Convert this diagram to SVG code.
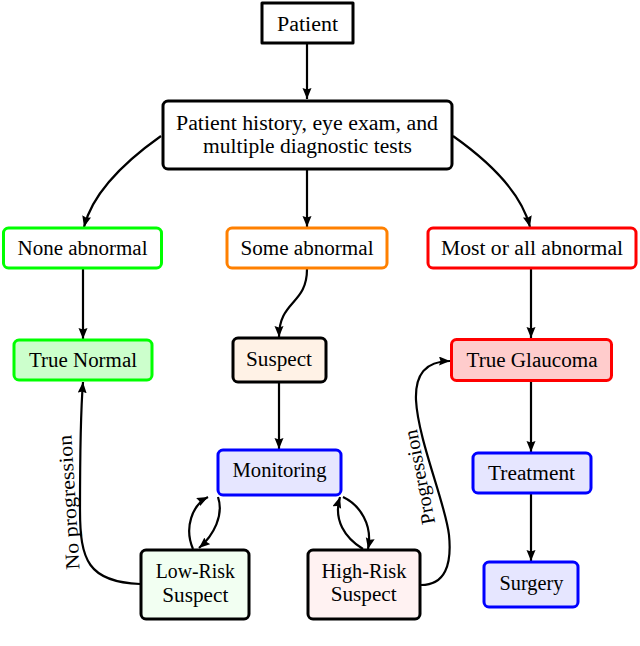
<svg xmlns="http://www.w3.org/2000/svg" width="640" height="646" viewBox="0 0 640 646">
<defs>
<marker id="ah" markerUnits="userSpaceOnUse" markerWidth="13" markerHeight="10" refX="11" refY="4.5" orient="auto">
<path d="M0,0 L11,4.5 L0,9 L1.5,4.5 z" fill="#000"/>
</marker>
<style>
text{font-family:"Liberation Serif","Times New Roman",serif;font-size:20px;fill:#000;text-anchor:middle}
.box{stroke-width:3;stroke-linejoin:round}
.k{stroke:#000}
.g{stroke:#00ff00}
.o{stroke:#ff8000}
.r{stroke:#ff0000}
.b{stroke:#0000ff}
#edges path{fill:none;stroke:#000;stroke-width:2.2;marker-end:url(#ah)}
</style>
</defs>
<rect width="640" height="646" fill="#fff"/>
<g id="edges">
<path d="M307,44 L307,99"/>
<path d="M161,136 C120,165 92,195 84,227"/>
<path d="M307,169 L307,227"/>
<path d="M453,136 C494,165 522,195 530,227"/>
<path d="M83,269 L83,339"/>
<path d="M307,269 C307,305 279,300 279,337"/>
<path d="M531,269 L531,338"/>
<path d="M279,383 L279,449"/>
<path d="M531,382 L531,452"/>
<path d="M531,494 L531,561"/>
<path d="M193,549 C184,528 192,505 208,497"/>
<path d="M218,497 C224,515 214,535 199,548"/>
<path d="M363,549 C345,538 333,520 340,497"/>
<path d="M343,497 C360,505 373,525 368,549"/>
<path d="M140,584 C88,582 80,560 80,510 C80,460 80,420 83,382"/>
<path d="M421,585 C445,585 452,565 449,535 C446,505 418,440 416,400 C415,375 425,361 450,361"/>
<text transform="translate(75.5,502) rotate(-93.5)" textLength="135" lengthAdjust="spacingAndGlyphs">No progression</text>
<text transform="translate(426,476) rotate(-101)" textLength="96" lengthAdjust="spacingAndGlyphs">Progression</text>
</g>
<g id="patient">
<rect class="box k" x="262" y="3" width="91" height="40" fill="#fff"/>
<text x="307.5" y="30.5" textLength="61" lengthAdjust="spacingAndGlyphs">Patient</text>
</g>
<g id="history">
<rect class="box k" x="163" y="101" width="289" height="68" rx="5" fill="#fff"/>
<text x="307" y="129.5" textLength="262" lengthAdjust="spacingAndGlyphs">Patient history, eye exam, and</text>
<text x="307.5" y="152.5" textLength="209" lengthAdjust="spacingAndGlyphs">multiple diagnostic tests</text>
</g>
<g id="none-abnormal">
<rect class="box g" x="3.5" y="228" width="158" height="40" rx="5" fill="#fff"/>
<text x="82.5" y="255" textLength="130" lengthAdjust="spacingAndGlyphs">None abnormal</text>
</g>
<g id="some-abnormal">
<rect class="box o" x="227" y="228" width="160" height="40" rx="5" fill="#fff"/>
<text x="307" y="255" textLength="133" lengthAdjust="spacingAndGlyphs">Some abnormal</text>
</g>
<g id="most-abnormal">
<rect class="box r" x="428" y="228" width="208" height="40" rx="5" fill="#fff"/>
<text x="532" y="255" textLength="182" lengthAdjust="spacingAndGlyphs">Most or all abnormal</text>
</g>
<g id="true-normal">
<rect class="box g" x="14" y="340" width="138" height="40" rx="5" fill="#ccffcc"/>
<text x="83" y="367" textLength="108" lengthAdjust="spacingAndGlyphs">True Normal</text>
</g>
<g id="suspect">
<rect class="box k" x="233" y="338" width="93" height="44" rx="5" fill="#fff2e6"/>
<text x="279" y="366" textLength="66" lengthAdjust="spacingAndGlyphs">Suspect</text>
</g>
<g id="true-glaucoma">
<rect class="box r" x="451.5" y="339.5" width="160" height="41" rx="5" fill="#ffcccc"/>
<text x="532" y="367" textLength="131" lengthAdjust="spacingAndGlyphs">True Glaucoma</text>
</g>
<g id="monitoring">
<rect class="box b" x="218" y="450" width="123" height="45" rx="5" fill="#e6e6ff"/>
<text x="279.5" y="477" textLength="94" lengthAdjust="spacingAndGlyphs">Monitoring</text>
</g>
<g id="treatment">
<rect class="box b" x="473" y="453" width="118" height="40" rx="5" fill="#e6e6ff"/>
<text x="531.5" y="480" textLength="87" lengthAdjust="spacingAndGlyphs">Treatment</text>
</g>
<g id="surgery">
<rect class="box b" x="484" y="562" width="94" height="45" rx="5" fill="#e6e6ff"/>
<text x="531.5" y="590" textLength="64" lengthAdjust="spacingAndGlyphs">Surgery</text>
</g>
<g id="low-risk">
<rect class="box k" x="141" y="550" width="108" height="69" rx="5" fill="#f2fff2"/>
<text x="195.3" y="578" textLength="79" lengthAdjust="spacingAndGlyphs">Low-Risk</text>
<text x="195.3" y="601.5" textLength="66" lengthAdjust="spacingAndGlyphs">Suspect</text>
</g>
<g id="high-risk">
<rect class="box k" x="308" y="550" width="112" height="69" rx="5" fill="#fff2f2"/>
<text x="364" y="578" textLength="85" lengthAdjust="spacingAndGlyphs">High-Risk</text>
<text x="363.7" y="601" textLength="66" lengthAdjust="spacingAndGlyphs">Suspect</text>
</g>
</svg>
